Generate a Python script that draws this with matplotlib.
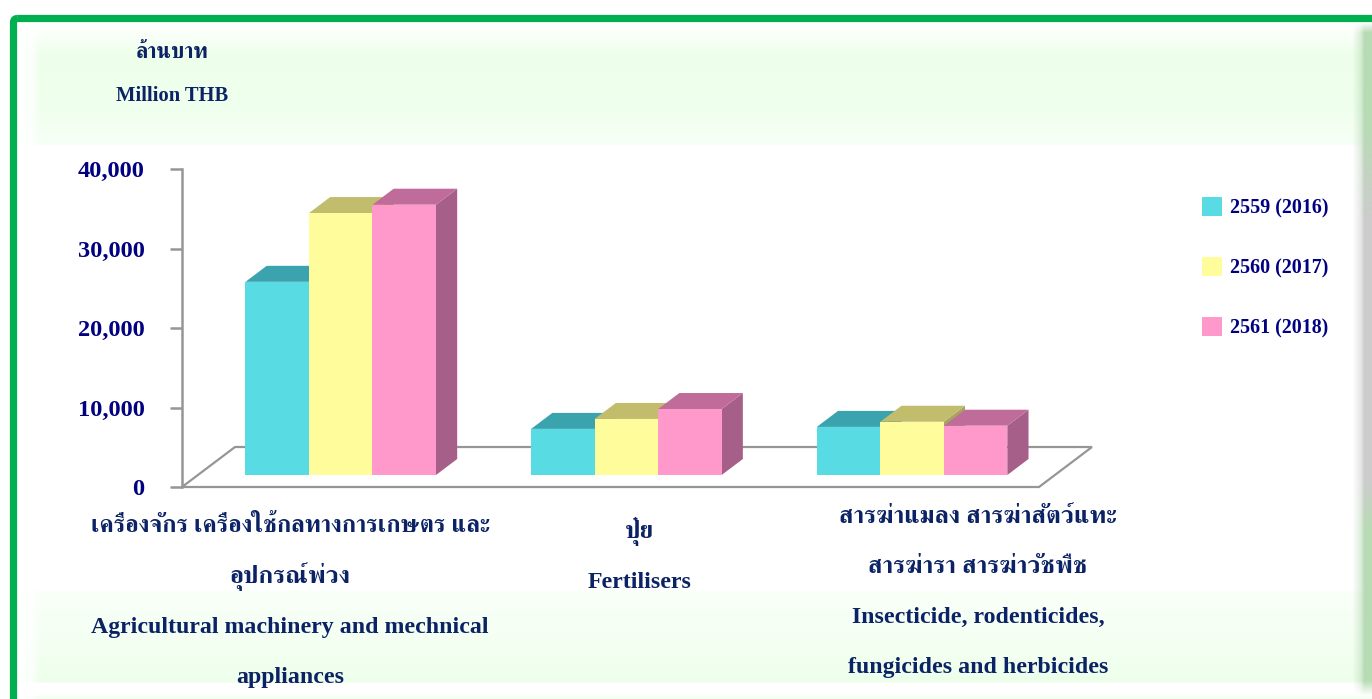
import numpy as np
import matplotlib
matplotlib.use('Agg')
import matplotlib.pyplot as plt
from matplotlib.patches import Patch, Polygon, FancyBboxPatch

# values (million THB)
years = ['2559 (2016)', '2560 (2017)', '2561 (2018)']
v2559 = [24300, 5800, 6050]
v2560 = [32950, 7050, 6700]
v2561 = [34000, 8300, 6200]
yticks = [0, 10000, 20000, 30000, 40000]

front = ['#58DBE3', '#FFFC9B', '#FF99CC']
top = ['#3AA3AE', '#C2BD6D', '#C06C9A']
side = ['#2F8E98', '#A8A45C', '#A65F88']

thai = ['FreeSerif', 'Noto Serif Thai', 'Noto Sans Thai', 'DejaVu Sans']
latin = ['Liberation Serif', 'DejaVu Serif']
navy = '#000080'
dark = '#0B2265'
grey = '#969696'

W, H = 1372, 699
fig = plt.figure(figsize=(W / 100, H / 100), dpi=100)

# backdrop in pixel coordinates: pale green bands, right bevel
bg = fig.add_axes([0, 0, 1, 1], zorder=0)
bg.set_xlim(0, W)
bg.set_ylim(H, 0)
bg.axis('off')
yy = np.arange(H)
xx = np.arange(W)
band = np.interp(yy, [26, 40, 55, 110, 143, 146, 588, 592, 640, 681, 683, 694, 697],
                 [0, 0.5, 1, 0.85, 0.45, 0, 0, 0.35, 0.6, 1, 0, 0, 0.8])
fade = np.interp(xx, [17, 32, 40], [0.1, 0.3, 1])
tint = np.outer(band, fade)[:, :, None]
img = 1 - tint * (1 - np.array([0.93, 1.0, 0.92]))
bevel = np.interp(xx, [1352, 1360, 1364], [0, 0.45, 1])[None, :, None]
bevel = bevel * np.interp(yy, [22, 32], [0, 1])[:, None, None]
bevel = bevel * np.interp(yy, [680, 695], [1, 0])[:, None, None]
edge = np.ones((H, 1, 3)) * np.array([0.72, 0.86, 0.71])
mix = np.interp(yy, [120, 220, 480, 530], [0, 1, 1, 0])[:, None, None]
edge = edge * (1 - mix) + np.array([0.80, 0.80, 0.80]) * mix
img = img * (1 - bevel) + edge * bevel
bg.imshow(img, extent=(0, W, H, 0), aspect='auto', interpolation='nearest', zorder=0)
bg.add_patch(plt.Rectangle((0, 0), W, 18, color='white', lw=0, zorder=1))
bg.add_patch(plt.Rectangle((0, 0), 13, H, color='white', lw=0, zorder=1))
bg.add_patch(FancyBboxPatch((13.5, 18.5), W, H, boxstyle='round,pad=0,rounding_size=4',
                            fc='none', ec='#00B050', lw=5.2, zorder=2))

ax = fig.add_axes([182 / W, 1 - 487 / H, 857 / W, 318 / H], zorder=2)
ax.patch.set_alpha(0)
ax.set_xlim(-0.5, 2.5)
ax.set_ylim(0, 40000)

cat_px = 857 / 3
dx = 53 / cat_px
dy = 5030
bw = 63.5 / cat_px
# floor
ax.add_patch(Polygon([(-0.5, 0), (2.5, 0), (2.5 + dx, dy), (-0.5 + dx, dy)], closed=True,
                     fc='white', ec=grey, lw=1.6, clip_on=False, zorder=1))

series = [v2559, v2560, v2561]
x = np.arange(3) + 0.3 * dx
base = 0.3 * dy
ddx = 0.4 * dx
ddy = 0.4 * dy
for i, vals in enumerate(series):
    xs = x + (i - 1) * bw
    for xc, v in zip(xs, vals):
        l, r = xc - bw / 2, xc + bw / 2
        t = base + v
        ax.add_patch(Polygon([(r, base), (r + ddx, base + ddy), (r + ddx, t + ddy), (r, t)],
                             fc=side[i], lw=0, clip_on=False, zorder=3))
        ax.add_patch(Polygon([(l, t), (r, t), (r + ddx, t + ddy), (l + ddx, t + ddy)],
                             fc=top[i], lw=0, clip_on=False, zorder=3))
        ax.bar(xc, v, bw, bottom=base, color=front[i], lw=0, zorder=3)

for s in ['top', 'right', 'bottom']:
    ax.spines[s].set_visible(False)
ax.spines['left'].set_color(grey)
ax.spines['left'].set_linewidth(1.8)
ax.set_xticks([])
ax.set_yticks(yticks)
ax.set_yticklabels([f'{v:,}' for v in yticks], family=latin, weight='bold', fontsize=17.6, color=navy,
                   va='center_baseline')
ax.tick_params(axis='y', length=9, width=1.8, color=grey, pad=18)
ax.set_facecolor('none')

handles = [Patch(color=c, lw=0) for c in front]
fig.legend(handles, years, loc='upper left', bbox_to_anchor=(1196 / W, 1 - 191 / H), frameon=False,
           prop={'family': latin, 'weight': 'bold', 'size': 14.4}, labelcolor=navy,
           handlelength=1, handleheight=1.1, handletextpad=0.4, labelspacing=1.92, borderpad=0.3, borderaxespad=0)

# axis title and category labels
def label(px, py, s, size, fam):
    bg.text(px, py, s, ha='center', va='center', family=fam, weight='bold', fontsize=size, color=dark)

label(172, 53, 'ล้านบาท', 15.6, thai)
label(172, 96, 'Million THB', 14.8, latin)

label(290, 526, 'เครื่องจักร เครื่องใช้กลทางการเกษตร และ', 17.3, thai)
label(290, 577, 'อุปกรณ์พ่วง', 18, thai)
label(290, 627, 'Agricultural machinery and mechnical', 17.2, latin)
label(290, 677, 'appliances', 17.2, latin)

label(640, 532, 'ปุ๋ย', 18, thai)
label(640, 582, 'Fertilisers', 17.2, latin)

label(978, 517, 'สารฆ่าแมลง สารฆ่าสัตว์แทะ', 18, thai)
label(978, 567, 'สารฆ่ารา สารฆ่าวัชพืช', 18, thai)
label(978, 617, 'Insecticide, rodenticides,', 17.2, latin)
label(978, 667, 'fungicides and herbicides', 17.2, latin)

fig.savefig('out.png', dpi=100)
